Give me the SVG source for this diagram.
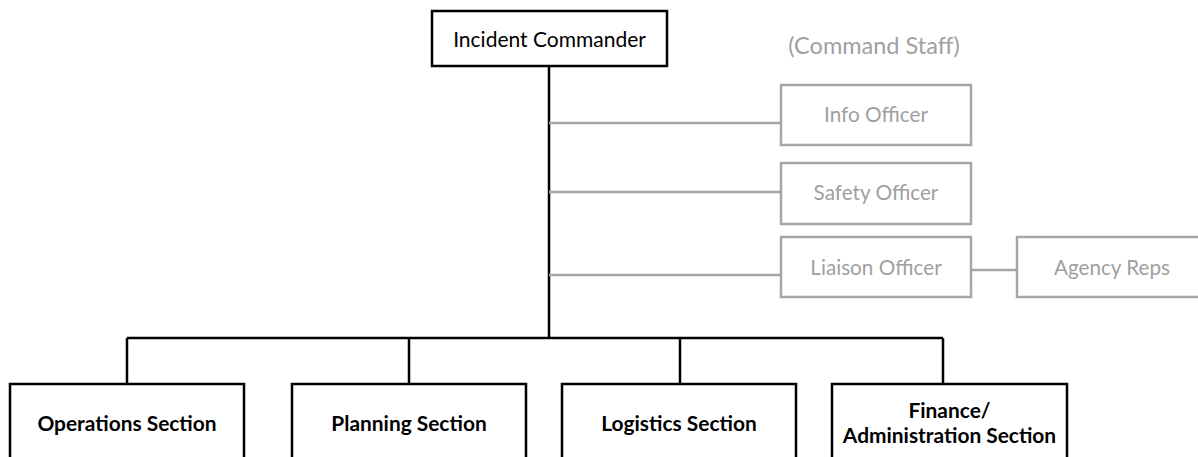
<svg xmlns="http://www.w3.org/2000/svg" width="1198" height="457" viewBox="0 0 1198 457">
<style>
.box{fill:#fff;stroke:#000;stroke-width:2.5}
.gbox{fill:#fff;stroke:#a6a6a6;stroke-width:2.5}
.ln{stroke:#000;stroke-width:2.5;fill:none}
.gln{stroke:#a6a6a6;stroke-width:2.5;fill:none}
.t{font-family:Lato,"Open Sans","Liberation Sans",sans-serif;font-size:21px;fill:#000;text-anchor:middle}
.tb{font-family:Lato,"Open Sans","Liberation Sans",sans-serif;font-size:20.9px;font-weight:bold;fill:#000;text-anchor:middle}
.tg{font-family:Lato,"Open Sans","Liberation Sans",sans-serif;font-size:20.7px;fill:#a0a0a0;text-anchor:middle}
.th{font-family:Lato,"Open Sans","Liberation Sans",sans-serif;font-size:23.5px;fill:#a0a0a0;text-anchor:middle}
</style>
<rect width="1198" height="457" fill="#fff"/>
<g id="connectors">
<path class="ln" d="M549 66V338"/>
<path class="ln" d="M127 338H943M127 338V384M409 338V384M680 338V384M943 338V384"/>
<path class="gln" d="M549 123H781M549 192H781M549 275H781M971 270H1017"/>
</g>
<g id="incident-commander"><rect class="box" x="432" y="11" width="235" height="55"/><text class="t" x="549.5" y="47">Incident Commander</text></g>
<g id="command-staff-label"><text class="th" x="874" y="54">(Command Staff)</text></g>
<g id="info-officer"><rect class="gbox" x="781" y="85" width="190" height="60"/><text class="tg" x="876" y="122">Info Officer</text></g>
<g id="safety-officer"><rect class="gbox" x="781" y="163" width="190" height="61"/><text class="tg" x="876" y="200">Safety Officer</text></g>
<g id="liaison-officer"><rect class="gbox" x="781" y="237" width="190" height="60"/><text class="tg" x="876" y="275">Liaison Officer</text></g>
<g id="agency-reps"><rect class="gbox" x="1017" y="237" width="190" height="60"/><text class="tg" x="1112" y="275">Agency Reps</text></g>
<g id="operations"><rect class="box" x="10" y="384" width="234" height="80"/><text class="tb" x="127" y="431">Operations Section</text></g>
<g id="planning"><rect class="box" x="292" y="384" width="234" height="80"/><text class="tb" x="409" y="431">Planning Section</text></g>
<g id="logistics"><rect class="box" x="562" y="384" width="234" height="80"/><text class="tb" x="679" y="431">Logistics Section</text></g>
<g id="finance"><rect class="box" x="832" y="384" width="235" height="80"/><text class="tb" x="949.5" y="418">Finance/</text><text class="tb" x="949.5" y="443">Administration Section</text></g>
</svg>
